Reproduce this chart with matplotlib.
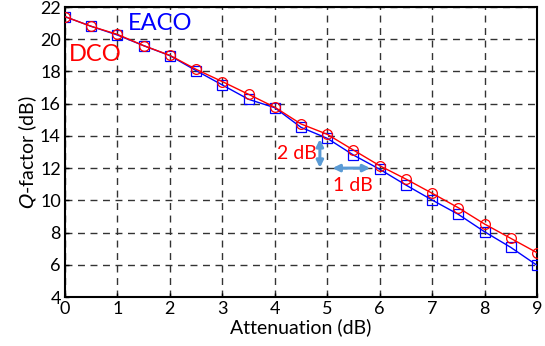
import numpy as np
import matplotlib
matplotlib.use("Agg")
from matplotlib import pyplot as plt

attenuation = [0, 0.5, 1, 1.5, 2, 2.5, 3, 3.5, 4, 4.5, 5, 5.5, 6, 6.5, 7, 7.5, 8, 8.5, 9]
q_dco = [21.4, 20.8, 20.3, 19.6, 19.0, 18.13, 17.37, 16.58, 15.78, 14.74, 14.1, 13.12,
         12.15, 11.32, 10.44, 9.54, 8.53, 7.64, 6.75]
q_eaco = [21.4, 20.8, 20.26, 19.6, 18.98, 18.05, 17.16, 16.27, 15.75, 14.53, 13.85, 12.81,
          11.93, 10.95, 10.02, 9.13, 8.05, 7.08, 5.97]
xticks = list(range(0, 10))
yticks = list(range(4, 23, 2))

plt.rcParams['font.family'] = ['Lato', 'DejaVu Sans']
plt.rcParams['xtick.direction'] = 'in'
plt.rcParams['ytick.direction'] = 'in'

fig = plt.figure(figsize=(5.45, 3.46), dpi=100)
ax = fig.add_axes([65/545, 1-297/346, (537-65)/545, (297-7)/346])

ax.plot(attenuation, q_eaco, color='blue', lw=1, marker='s', ms=7, mfc='none', mew=0.9, zorder=3)
ax.plot(attenuation, q_dco, color='red', lw=1, marker='o', ms=7, mfc='none', mew=0.9, zorder=4)

ax.set_xlim(0, 9)
ax.set_ylim(4, 22)
ax.set_xticks(xticks)
ax.set_yticks(yticks)
ax.tick_params(labelsize=13, length=3, width=1, pad=3)
ax.grid(True, color='#333333', linestyle=(0, (5, 4)), lw=1)
for s in ax.spines.values():
    s.set_linewidth(1.5)

ax.set_xlabel('Attenuation (dB)', fontsize=14, labelpad=1)
ax.set_ylabel('$\\it{Q}$-factor (dB)', fontsize=14, labelpad=1)

ax.text(1.82, 20.95, 'EACO', color='blue', fontsize=17, ha='center', va='center')
ax.text(0.57, 19.08, 'DCO', color='red', fontsize=17, ha='center', va='center')
ax.text(4.43, 12.92, '2 dB', color='red', fontsize=14, ha='center', va='center')
ax.text(5.48, 10.95, '1 dB', color='red', fontsize=14, ha='center', va='center')

arrow_col = '#5b9bd5'
ax.annotate('', xy=(4.86, 13.8), xytext=(4.86, 12.02),
            arrowprops=dict(arrowstyle='<|-|>', color=arrow_col, lw=2.2, mutation_scale=10, shrinkA=0, shrinkB=0))
ax.annotate('', xy=(5.1, 12.0), xytext=(5.82, 12.0),
            arrowprops=dict(arrowstyle='<|-|>', color=arrow_col, lw=2.2, mutation_scale=10, shrinkA=0, shrinkB=0))

fig.savefig('out.png', dpi=100)
